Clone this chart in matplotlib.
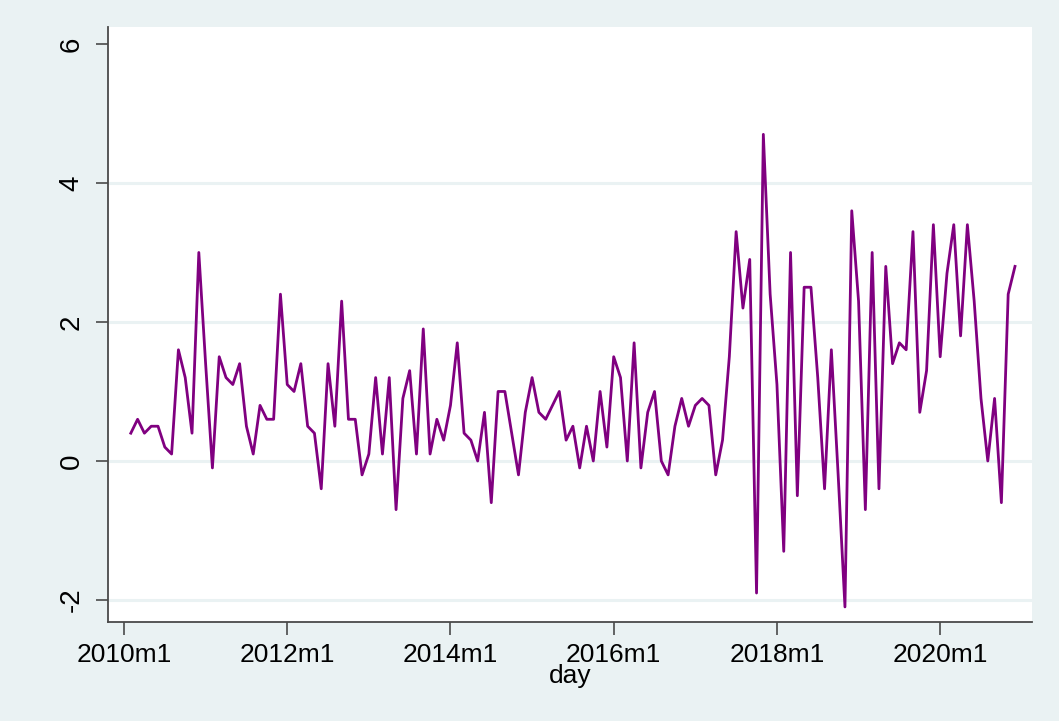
import matplotlib
matplotlib.use("Agg")
import matplotlib.pyplot as plt
import pandas as pd

plt.rcParams["font.family"] = ["Liberation Sans", "DejaVu Sans"]

# monthly series, 2010m2 .. 2020m12
start = "2010-02"
end = "2020-12"
values = [
    0.4, 0.6, 0.4, 0.5, 0.5, 0.2, 0.1, 1.6, 1.2, 0.4, 3.0,            # 2010
    1.4, -0.1, 1.5, 1.2, 1.1, 1.4, 0.5, 0.1, 0.8, 0.6, 0.6, 2.4,      # 2011
    1.1, 1.0, 1.4, 0.5, 0.4, -0.4, 1.4, 0.5, 2.3, 0.6, 0.6, -0.2,     # 2012
    0.1, 1.2, 0.1, 1.2, -0.7, 0.9, 1.3, 0.1, 1.9, 0.1, 0.6, 0.3,      # 2013
    0.8, 1.7, 0.4, 0.3, 0.0, 0.7, -0.6, 1.0, 1.0, 0.4, -0.2, 0.7,     # 2014
    1.2, 0.7, 0.6, 0.8, 1.0, 0.3, 0.5, -0.1, 0.5, 0.0, 1.0, 0.2,      # 2015
    1.5, 1.2, 0.0, 1.7, -0.1, 0.7, 1.0, 0.0, -0.2, 0.5, 0.9, 0.5,     # 2016
    0.8, 0.9, 0.8, -0.2, 0.3, 1.5, 3.3, 2.2, 2.9, -1.9, 4.7, 2.4,     # 2017
    1.1, -1.3, 3.0, -0.5, 2.5, 2.5, 1.2, -0.4, 1.6, -0.2, -2.1, 3.6,  # 2018
    2.3, -0.7, 3.0, -0.4, 2.8, 1.4, 1.7, 1.6, 3.3, 0.7, 1.3, 3.4,     # 2019
    1.5, 2.7, 3.4, 1.8, 3.4, 2.3, 0.9, 0.0, 0.9, -0.6, 2.4, 2.8,      # 2020
]
y_ticks = [-2, 0, 2, 4, 6]
x_tick_years = [2010, 2012, 2014, 2016, 2018, 2020]

months = pd.period_range(start, end, freq="M")
x = (months.year - 2010) * 12 + (months.month - 1)

BG = "#EAF2F3"
LINE = "#800080"
AXIS = "#4a4a4a"

fig = plt.figure(figsize=(10.59, 7.21), dpi=100, facecolor=BG)
ax = fig.add_axes([0.102, 0.1373, 0.8725, 0.8253])
ax.set_facecolor("white")

for yv in y_ticks[:-1]:
    ax.axhline(yv, color=BG, linewidth=2.2, zorder=1)

ax.plot(x, values, color=LINE, linewidth=2.0, zorder=3)

ax.set_xlim(-2.35, 133.5)
ax.set_ylim(-2.317, 6.245)

ax.set_yticks(y_ticks)
ax.set_yticklabels([str(v) for v in y_ticks], rotation=90, va="center",
                   fontsize=20)
ax.set_xticks([(yr - 2010) * 12 for yr in x_tick_years])
ax.set_xticklabels([f"{yr}m1" for yr in x_tick_years], fontsize=19)
ax.set_xlabel("day", fontsize=19, labelpad=-2)

for side in ("top", "right"):
    ax.spines[side].set_visible(False)
for side in ("left", "bottom"):
    ax.spines[side].set_color(AXIS)
    ax.spines[side].set_linewidth(1.3)
ax.tick_params(axis="both", colors=AXIS, length=9, width=1.2,
               labelcolor="black", pad=6)
ax.tick_params(axis="y", pad=8)

fig.savefig("out.png", dpi=100, facecolor=BG)
